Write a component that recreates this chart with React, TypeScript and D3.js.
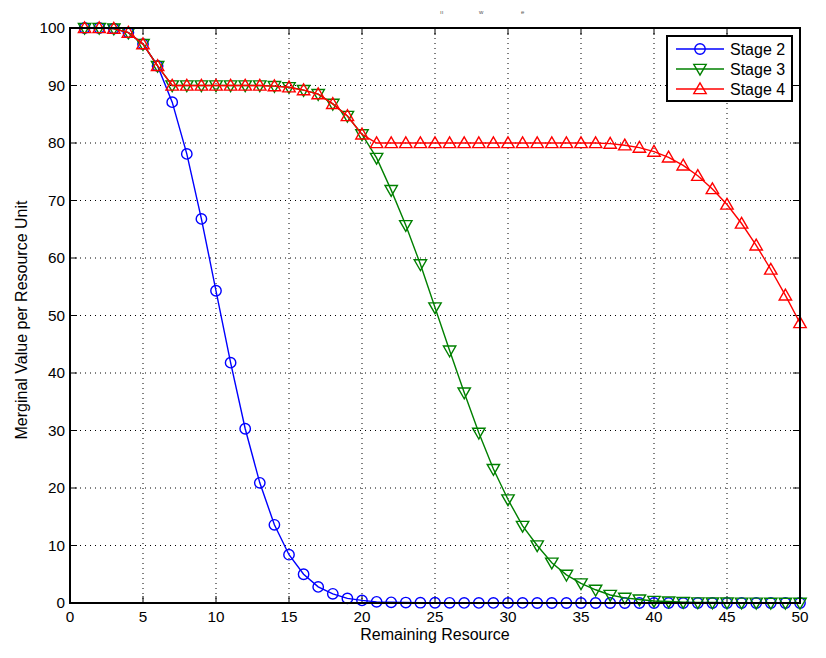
import React from "react";
import * as d3 from "d3";

const xValues = d3.range(1, 51);
const stage2 = [100, 100, 99.9, 99.2, 97.2, 93.4, 87.1, 78.1, 66.8, 54.3, 41.8, 30.3, 20.9, 13.6, 8.4, 5.0, 2.8, 1.6, 0.8, 0.45, 0.2, 0.12, 0.08, 0.05, 0.04, 0.03, 0.02, 0.02, 0.01, 0.01, 0.01, 0, 0, 0, 0, 0, 0, 0, 0, 0, 0, 0, 0, 0, 0, 0, 0, 0, 0, 0];
const stage3 = [100, 100, 99.9, 99.2, 97.2, 93.4, 90, 90, 90, 90, 90, 90, 90, 89.9, 89.7, 89.2, 88.5, 86.8, 84.7, 81.5, 77.4, 71.8, 65.7, 58.9, 51.4, 43.9, 36.6, 29.6, 23.3, 18.0, 13.4, 10.0, 7.0, 4.9, 3.4, 2.3, 1.4, 0.9, 0.6, 0.35, 0.25, 0.15, 0.1, 0.08, 0.06, 0.05, 0.04, 0.03, 0.02, 0.02];
const stage4 = [100, 100, 99.9, 99.2, 97.2, 93.4, 90, 90, 90, 90, 90, 90, 90, 89.9, 89.7, 89.2, 88.5, 86.8, 84.7, 81.5, 80, 80, 80, 80, 80, 80, 80, 80, 80, 80, 80, 80, 80, 80, 80, 80, 79.9, 79.6, 79.2, 78.5, 77.5, 76.1, 74.3, 72.0, 69.3, 66.0, 62.2, 58.0, 53.5, 48.7];
const xTicks = [0, 5, 10, 15, 20, 25, 30, 35, 40, 45, 50];
const yTicks = [0, 10, 20, 30, 40, 50, 60, 70, 80, 90, 100];
const seriesNames = ["Stage 2", "Stage 3", "Stage 4"];
const seriesColors = ["#0000ff", "#008000", "#ff0000"];
const seriesMarkers = ["circle", "triangleDown", "triangleUp"];
const xLabel = "Remaining Resource";
const yLabel = "Merginal Value per Resource Unit";

const W = 826;
const H = 658;
const left = 70, right = 800, top = 28, bottom = 603;
const FONT = "'Liberation Sans', Arial, Helvetica, sans-serif";

function Marker({ type, x, y, color }: { type: string; x: number; y: number; color: string }) {
  if (type === "circle") {
    return <circle cx={x} cy={y} r={5.2} fill="none" stroke={color} strokeWidth={1.4} />;
  }
  const s = type === "triangleUp" ? 1 : -1;
  const pts = [
    [x, y - 6.2 * s],
    [x - 6.2, y + 4.6 * s],
    [x + 6.2, y + 4.6 * s],
  ];
  return <polygon points={pts.map((p) => p.join(",")).join(" ")} fill="none" stroke={color} strokeWidth={1.4} strokeLinejoin="miter" />;
}

export default function App() {
  const x = d3.scaleLinear().domain([0, 50]).range([left, right]);
  const y = d3.scaleLinear().domain([0, 100]).range([bottom, top]);
  const series = [stage2, stage3, stage4];
  const line = d3
    .line<number>()
    .x((_, i) => x(xValues[i]))
    .y((d) => y(d));

  return (
    <svg width={W} height={H} style={{ position: "absolute", left: 0, top: 0, background: "#fff" }} fontFamily={FONT}>
      <rect x={0} y={0} width={W} height={H} fill="#fff" />
      {/* title fragments */}
      <g fill="#555" fontSize={6}>
        <text x={440} y={14}>ıı</text>
        <text x={479} y={14}>w</text>
        <text x={521} y={14}>e</text>
      </g>
      {/* grid */}
      <g stroke="#000" strokeWidth={1} strokeDasharray="1,4">
        {xTicks.slice(1, -1).map((t) => (
          <line key={"gx" + t} x1={x(t)} x2={x(t)} y1={top} y2={bottom} />
        ))}
        {yTicks.slice(1, -1).map((t) => (
          <line key={"gy" + t} x1={left} x2={right} y1={y(t)} y2={y(t)} />
        ))}
      </g>
      {/* ticks */}
      <g stroke="#000" strokeWidth={1}>
        {xTicks.map((t) => (
          <g key={"tx" + t}>
            <line x1={x(t)} x2={x(t)} y1={bottom} y2={bottom - 7} />
            <line x1={x(t)} x2={x(t)} y1={top} y2={top + 7} />
          </g>
        ))}
        {yTicks.map((t) => (
          <g key={"ty" + t}>
            <line x1={left} x2={left + 7} y1={y(t)} y2={y(t)} />
            <line x1={right} x2={right - 7} y1={y(t)} y2={y(t)} />
          </g>
        ))}
      </g>
      {/* series */}
      {series.map((s, si) => (
        <g key={"s" + si}>
          <path d={line(s) || ""} fill="none" stroke={seriesColors[si]} strokeWidth={1.4} />
          {s.map((v, i) => (
            <Marker key={i} type={seriesMarkers[si]} x={x(xValues[i])} y={y(v)} color={seriesColors[si]} />
          ))}
        </g>
      ))}
      {/* frame */}
      <rect x={left} y={top} width={right - left} height={bottom - top} fill="none" stroke="#000" strokeWidth={2} />
      {/* tick labels */}
      <g fontSize={15.3} fill="#000">
        {xTicks.map((t) => (
          <text key={"lx" + t} x={x(t)} y={622} textAnchor="middle">{t}</text>
        ))}
        {yTicks.map((t) => (
          <text key={"ly" + t} x={65} y={y(t) + 5.3} textAnchor="end">{t}</text>
        ))}
      </g>
      <text x={(left + right) / 2} y={640} textAnchor="middle" fontSize={16} fill="#000">{xLabel}</text>
      <text transform={`translate(27,320) rotate(-90)`} textAnchor="middle" fontSize={16} fill="#000">{yLabel}</text>
      {/* legend */}
      <g>
        <rect x={667} y={36} width={125} height={65} fill="#fff" stroke="#000" strokeWidth={2} />
        {seriesNames.map((n, i) => {
          const ly = 49 + i * 20;
          return (
            <g key={n}>
              <line x1={676} x2={724} y1={ly} y2={ly} stroke={seriesColors[i]} strokeWidth={1.4} />
              <Marker type={seriesMarkers[i]} x={700} y={ly} color={seriesColors[i]} />
              <text x={730} y={ly + 5.7} fontSize={16} fill="#000">{n}</text>
            </g>
          );
        })}
      </g>
    </svg>
  );
}
